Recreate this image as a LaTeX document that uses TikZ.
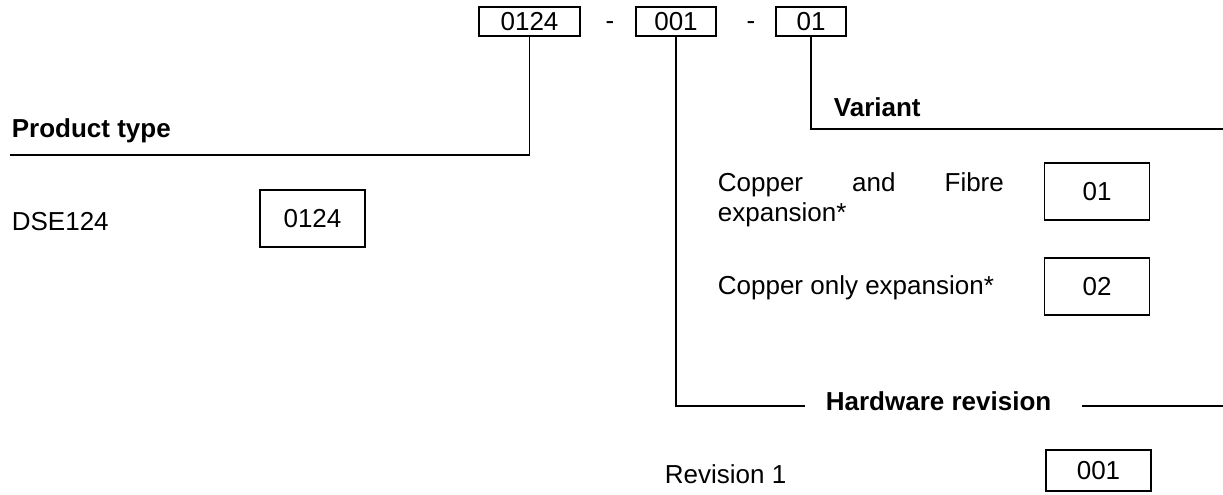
\documentclass[tikz,border=0pt]{standalone}
\usepackage{fontspec}
\setmainfont{Liberation Sans}
\usetikzlibrary{positioning}

\begin{document}
\begin{tikzpicture}[x=0.4pt,y=-0.4pt,line width=0.7pt,
                    font=\fontsize{10.4}{12}\selectfont,
                    top box/.style={draw,inner sep=0pt,minimum height=11.6pt},
                    code box/.style={draw,inner sep=0pt,minimum width=42pt,minimum height=22.8pt},
                    head text/.style={font=\fontsize{10.4}{12}\selectfont\bfseries,inner sep=0pt},
                    plain text/.style={inner sep=0pt}
                   ]
  \useasboundingbox (0,0) rectangle (1223,494);

  \node[top box,minimum width=40.4pt] (top type) at (529.5,21.5) {0124};
  \node[plain text,anchor=base] (dash a) at (610,29.5) {-};
  \node[top box,minimum width=32pt] (top rev) at (676,21.5) {001};
  \node[plain text,anchor=base] (dash b) at (751,29.5) {-};
  \node[top box,minimum width=28pt] (top var) at (811,21.5) {01};

  % product type
  \node[head text,anchor=base west] (type head) at (11,137) {Product type};
  \coordinate (type end) at (10,155);
  \draw (top type.south) |- (type end);
  \node[plain text,anchor=base west] (type name) at (11,230) {DSE124};
  \node[code box] (type code) at (312.5,218.5) {0124};

  % variant
  \node[head text,anchor=base west] (var head) at (833,116) {Variant};
  \coordinate (var mid) at (963,129);
  \coordinate (var end) at (1223,129);
  \draw[line width=0.5pt] (top var.south) |- (var mid);
  \draw (var mid) -- (var end);
  \node[plain text,anchor=north west,text width=114.4pt,align=justify] (var fibre) at (717,172)
       {Copper and Fibre\linebreak expansion*};
  \node[code box] (var code a) at (1097,191.5) {01};
  \node[plain text,anchor=base west] (var copper) at (717,294) {Copper only expansion*};
  \node[code box] (var code b) at (1097,286.5) {02};

  % hardware revision
  \coordinate (rev left) at (805,406);
  \draw (top rev.south) |- (rev left);
  \node[head text,anchor=base west] (rev head) at (825,410) {Hardware revision};
  \coordinate (rev gap) at (1082,406);
  \coordinate (rev end) at (1223,406);
  \draw (rev gap) -- (rev end);
  \node[plain text,anchor=base west] (rev name) at (664,483) {Revision 1};
  \node[code box,minimum height=16.4pt] (rev code) at (1098.5,470.5) {001};
\end{tikzpicture}
\end{document}
